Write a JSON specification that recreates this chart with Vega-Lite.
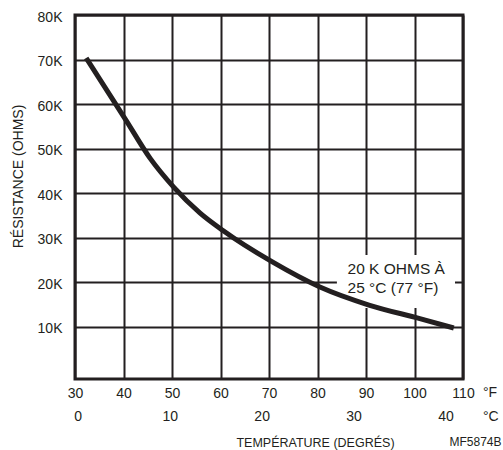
{
  "$schema": "https://vega.github.io/schema/vega-lite/v6.json",
  "width": 388,
  "height": 364,
  "autosize": {"type": "none"},
  "padding": {"left": 75, "top": 15, "right": 40, "bottom": 71},
  "background": "white",
  "config": {
    "view": {"stroke": "#231f20", "strokeWidth": 3},
    "font": "Liberation Sans",
    "text": {"font": "Liberation Sans", "color": "#231f20"},
    "axis": {
      "domain": false,
      "ticks": false,
      "tickSize": 0,
      "labelFont": "Liberation Sans",
      "labelFontSize": 14,
      "labelColor": "#231f20",
      "titleFont": "Liberation Sans",
      "titleColor": "#231f20",
      "titleFontWeight": "normal",
      "gridColor": "#231f20",
      "gridOpacity": 1,
      "gridWidth": 2,
      "labelFlush": false,
      "labelOverlap": false,
      "labelBound": false
    }
  },
  "layer": [
    {
      "layer": [
        {
          "data": {"values": [{}]},
          "mark": {"type": "rect", "fill": "white"},
          "encoding": {
            "x": {
              "datum": 84.0,
              "type": "quantitative",
              "scale": {"domain": [30, 110], "nice": false, "zero": false},
              "axis": {
                "values": [30, 40, 50, 60, 70, 80, 90, 100, 110],
                "title": null,
                "grid": true,
                "labelPadding": 14,
                "labelBaseline": "middle",
                "labelAlign": "center"
              }
            },
            "x2": {"datum": 108.35},
            "y": {
              "datum": 26086,
              "type": "quantitative",
              "scale": {"domain": [-1770, 80000], "nice": false, "zero": false},
              "axis": {
                "values": [10000, 20000, 30000, 40000, 50000, 60000, 70000, 80000],
                "labelExpr": "datum.value / 1000 + 'K'",
                "grid": true,
                "labelPadding": 13,
                "labelOffset": 2,
                "labelAlign": "right",
                "labelBaseline": "middle",
                "title": "RÉSISTANCE (OHMS)",
                "titleFontSize": 14,
                "titleX": -57,
                "titleY": 161,
                "titleAngle": -90,
                "titleAlign": "center",
                "titleBaseline": "middle"
              }
            },
            "y2": {"datum": 14180}
          }
        },
        {
          "data": {
            "values": [
              {"f": 32.3, "r": 70340},
              {"f": 40.5, "r": 56400},
              {"f": 45.5, "r": 47800},
              {"f": 50.3, "r": 41400},
              {"f": 55.8, "r": 35500},
              {"f": 60.5, "r": 31600},
              {"f": 70.6, "r": 24600},
              {"f": 80.5, "r": 18900},
              {"f": 90.6, "r": 14850},
              {"f": 101.1, "r": 11800},
              {"f": 108.1, "r": 9690}
            ]
          },
          "mark": {"type": "line", "color": "#231f20", "strokeWidth": 5, "interpolate": "monotone", "strokeCap": "butt"},
          "encoding": {
            "x": {"field": "f", "type": "quantitative"},
            "y": {"field": "r", "type": "quantitative"}
          }
        },
        {
          "data": {"values": [{}]},
          "mark": {"type": "text", "align": "left", "baseline": "alphabetic", "fontSize": 15.5, "lineHeight": 19, "color": "#231f20"},
          "encoding": {
            "x": {"datum": 86.2, "type": "quantitative"},
            "y": {"datum": 21819, "type": "quantitative"},
            "text": {"value": ["20 K OHMS À", "25 °C (77 °F)"]}
          }
        },
        {
          "data": {"values": [{}]},
          "mark": {"type": "text", "align": "left", "baseline": "middle", "fontSize": 14, "dx": 20, "dy": 14, "color": "#231f20"},
          "encoding": {
            "x": {"datum": 110, "type": "quantitative"},
            "y": {"datum": -1770, "type": "quantitative"},
            "text": {"value": "°F"}
          }
        },
        {
          "data": {"values": [{}]},
          "mark": {"type": "text", "align": "left", "baseline": "middle", "fontSize": 14, "dx": 20, "dy": 38, "color": "#231f20"},
          "encoding": {
            "x": {"datum": 110, "type": "quantitative"},
            "y": {"datum": -1770, "type": "quantitative"},
            "text": {"value": "°C"}
          }
        },
        {
          "data": {"values": [{}]},
          "mark": {"type": "text", "align": "right", "baseline": "middle", "fontSize": 12, "dx": 38.5, "dy": 63, "color": "#231f20"},
          "encoding": {
            "x": {"datum": 110, "type": "quantitative"},
            "y": {"datum": -1770, "type": "quantitative"},
            "text": {"value": "MF5874B"}
          }
        }
      ]
    },
    {
      "data": {"values": [{"c": 0}, {"c": 40}]},
      "mark": {"type": "point", "opacity": 0},
      "encoding": {
        "x": {
          "field": "c",
          "type": "quantitative",
          "scale": {"domain": [-0.3, 41.9], "nice": false, "zero": false},
          "axis": {
            "orient": "bottom",
            "values": [0, 10, 20, 30, 40],
            "grid": false,
            "labelPadding": 37,
            "labelBaseline": "middle",
            "labelAlign": "center",
            "title": "TEMPÉRATURE (DEGRÉS)",
            "titleFontSize": 12.5,
            "titleX": 240,
            "titleY": 63,
            "titleAngle": 0,
            "titleAlign": "center",
            "titleBaseline": "middle"
          }
        }
      }
    }
  ],
  "resolve": {"scale": {"x": "independent"}, "axis": {"x": "independent"}}
}
